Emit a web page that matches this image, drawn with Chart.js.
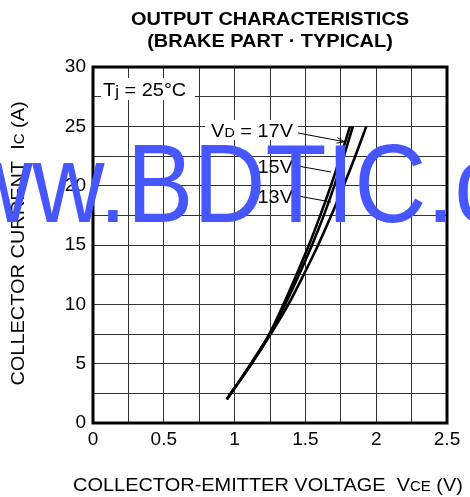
<!DOCTYPE html>
<html>
<head>
<meta charset="utf-8">
<script src="https://cdn.jsdelivr.net/npm/chart.js@4/dist/chart.umd.min.js"></script>
<style>
html,body{margin:0;padding:0;background:#fff;}
canvas{display:block;}
</style>
</head>
<body>
<canvas id="c" width="470" height="497"></canvas>
<script>
// ---- data ----
const titleLines = ["OUTPUT CHARACTERISTICS", "(BRAKE PART \u00B7 TYPICAL)"];
const xTicksLabelled = [0, 0.5, 1, 1.5, 2, 2.5];
const yTicksLabelled = [0, 5, 10, 15, 20, 25, 30];

const ic    = [2,     5,     7.5,   10,    12.5,  15,    17.5,  20,    22.5,  25];
const vce17 = [0.945, 1.115, 1.245, 1.345, 1.437, 1.525, 1.605, 1.680, 1.750, 1.815];
const vce15 = [0.945, 1.117, 1.248, 1.357, 1.455, 1.547, 1.630, 1.705, 1.772, 1.835];
const vce13 = [0.945, 1.120, 1.255, 1.380, 1.488, 1.590, 1.683, 1.770, 1.853, 1.930];

const seriesNames = ["VD = 17V", "15V", "13V"];

const FONT = "'Liberation Sans', Arial, Helvetica, sans-serif";
const HS = 1.05; // horizontal stretch of drawn text

function pts(xs, ys){ return xs.map((x,i)=>({x:x, y:ys[i]})); }

function ds(label, xs){
  return {
    label: label,
    data: pts(xs, ic),
    showLine: true,
    borderColor: '#000',
    borderWidth: 2.6,
    pointRadius: 0,
    cubicInterpolationMode: 'monotone',
    fill: false
  };
}

function richWidth(ctx, segs, size, weight){
  let w = 0;
  segs.forEach(sg=>{
    ctx.font = (weight||'') + ' ' + (size*(sg.s||1)) + 'px ' + FONT;
    w += ctx.measureText(sg.t).width;
  });
  return w;
}
function drawRich(ctx, segs, x, y, size, align, weight){
  const w = richWidth(ctx, segs, size, weight) * HS;
  let sx = align==='center' ? x - w/2 : (align==='right' ? x - w : x);
  ctx.save();
  ctx.translate(sx, y);
  ctx.scale(HS, 1);
  ctx.textAlign = 'left';
  ctx.textBaseline = 'alphabetic';
  let cx = 0;
  segs.forEach(sg=>{
    ctx.font = (weight||'') + ' ' + (size*(sg.s||1)) + 'px ' + FONT;
    ctx.fillText(sg.t, cx, (sg.dy||0));
    cx += ctx.measureText(sg.t).width;
  });
  ctx.restore();
  return w;
}

function arrow(ctx, x1, y1, x2, y2, head){
  ctx.beginPath();
  ctx.moveTo(x1,y1); ctx.lineTo(x2,y2);
  ctx.stroke();
  if(head){
    const a = Math.atan2(y2-y1, x2-x1);
    const L = 8, sp = 0.35;
    ctx.beginPath();
    ctx.moveTo(x2 - L*Math.cos(a-sp), y2 - L*Math.sin(a-sp));
    ctx.lineTo(x2, y2);
    ctx.lineTo(x2 - L*Math.cos(a+sp), y2 - L*Math.sin(a+sp));
    ctx.stroke();
  }
}

const decor = {
  id: 'decor',
  afterDatasetsDraw(chart){
    const ctx = chart.ctx, a = chart.chartArea;
    const xs = chart.scales.x, ys = chart.scales.y;
    ctx.save();
    ctx.strokeStyle = '#000';
    ctx.lineWidth = 3;
    ctx.strokeRect(a.left, a.top, a.right - a.left, a.bottom - a.top);

    ctx.fillStyle = '#000';
    const cx = (a.left + a.right)/2;
    drawRich(ctx, [{t:titleLines[0]}], cx, 25, 19, 'center', 'bold');
    drawRich(ctx, [{t:titleLines[1]}], cx, 47, 19, 'center', 'bold');

    // Tj label box
    ctx.fillStyle = '#fff';
    ctx.fillRect(a.left + 8, 78, 94, 22);
    ctx.fillStyle = '#000';
    drawRich(ctx, [{t:'T'},{t:'j', s:0.85, dy:1},{t:' = 25\u00B0C'}], a.left + 10, 95.5, 19, 'left');

    // series labels
    const rx = 293;
    ctx.fillStyle = '#fff';
    ctx.fillRect(205, 120, 93, 20);
    ctx.fillStyle = '#000';
    drawRich(ctx, [{t:'V'},{t:'D', s:0.72},{t:' = 17V'}], rx, 137, 19, 'right');
    drawRich(ctx, [{t:seriesNames[1]}], rx, 173, 19, 'right');
    drawRich(ctx, [{t:seriesNames[2]}], rx, 203, 19, 'right');
    ctx.strokeStyle = '#000';
    ctx.lineWidth = 1;
    arrow(ctx, 298, 133, xs.getPixelForValue(1.775), ys.getPixelForValue(23.7), true);
    arrow(ctx, 298, 166, 331, 172, false);
    arrow(ctx, 298, 196, 331, 202, false);

    // axis titles
    drawRich(ctx, [{t:'COLLECTOR-EMITTER VOLTAGE  V'},{t:'CE', s:0.75},{t:' (V)'}], 268, 491, 19, 'center');
    ctx.save();
    ctx.translate(24, 243.5);
    ctx.rotate(-Math.PI/2);
    drawRich(ctx, [{t:'COLLECTOR CURRENT  I'},{t:'C', s:0.75},{t:' (A)'}], 0, 0, 19, 'center');
    ctx.restore();
    ctx.restore();
  },
  afterDraw(chart){
    const ctx = chart.ctx;
    ctx.save();
    ctx.fillStyle = '#4657ff';
    ctx.font = '111px ' + FONT;
    ctx.textAlign = 'left';
    ctx.textBaseline = 'alphabetic';
    ctx.translate(-112, 222);
    ctx.scale(0.9, 1);
    ctx.fillText('www.BDTIC.com', 0, 0);
    ctx.restore();
  }
};

function isLabelled(v, list){ return list.some(t=>Math.abs(t - v) < 1e-6); }

new Chart(document.getElementById('c'), {
  type: 'scatter',
  data: { datasets: [ds(seriesNames[0], vce17), ds(seriesNames[1], vce15), ds(seriesNames[2], vce13)] },
  options: {
    responsive: false,
    animation: false,
    devicePixelRatio: 1,
    layout: { padding: { left: 0, right: 23, top: 67, bottom: 0 } },
    plugins: { legend: { display: false }, tooltip: { enabled: false }, title: { display: false } },
    scales: {
      x: {
        type: 'linear', min: 0, max: 2.5,
        border: { display: false },
        grid: { color: '#333', lineWidth: 1, drawTicks: false },
        ticks: {
          stepSize: 0.25, autoSkip: false, maxRotation: 0, padding: 5,
          color: '#000', font: { family: FONT, size: 19 },
          callback: v => isLabelled(v, xTicksLabelled) ? String(Math.round(v*10)/10) : ''
        },
        afterFit: s => { s.height = 74; }
      },
      y: {
        type: 'linear', min: 0, max: 30,
        border: { display: false },
        grid: { color: '#333', lineWidth: 1, drawTicks: false },
        ticks: {
          stepSize: 2.5, autoSkip: false, padding: 7,
          color: '#000', font: { family: FONT, size: 19 },
          callback: v => isLabelled(v, yTicksLabelled) ? String(Math.round(v)) : ''
        },
        afterFit: s => { s.width = 93; }
      }
    }
  },
  plugins: [decor]
});
</script>
</body>
</html>
